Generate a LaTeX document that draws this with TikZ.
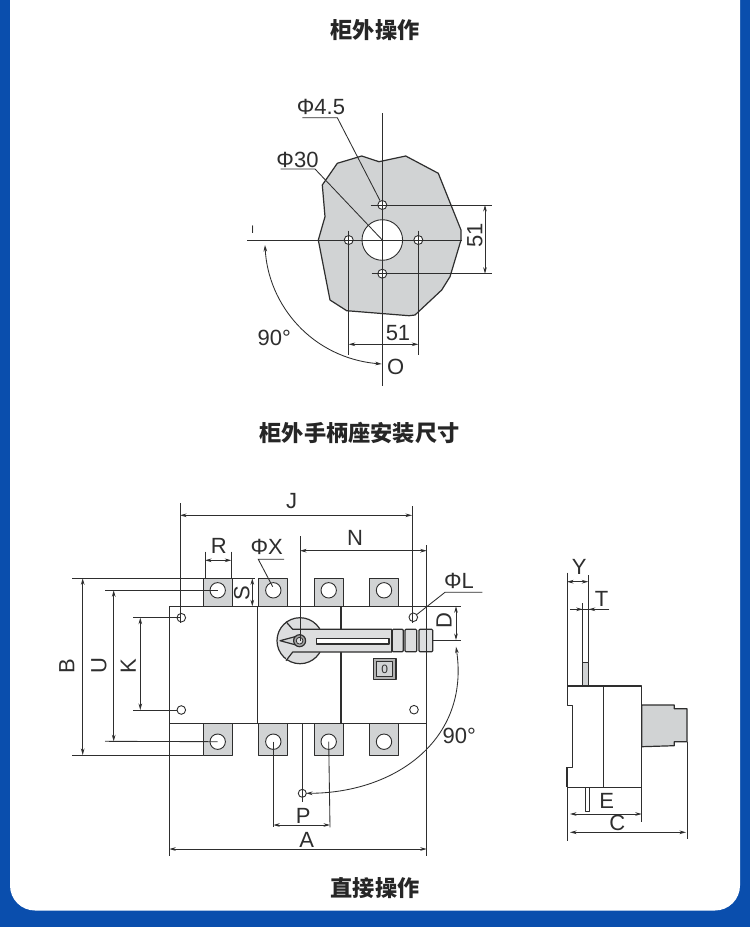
\documentclass[tikz,border=0pt]{standalone}
\usepackage{fontspec}
\setmainfont{Liberation Sans}
\newfontfamily\cjk{Noto Sans CJK SC}
\usetikzlibrary{arrows.meta}
\definecolor{frameblue}{HTML}{0A4EAD}
\definecolor{inkgray}{HTML}{2E2E2E}
\definecolor{platefill}{HTML}{D1D3D4}
\definecolor{gripfill}{HTML}{DDDEDF}
\tikzset{
	outline/.style={draw=inkgray, line width=1.2pt, line join=round},
	thinline/.style={draw=inkgray, line width=0.85pt},
	dimline/.style={draw=inkgray, line width=0.85pt, {Stealth[length=6.5pt,width=3.6pt]}-{Stealth[length=6.5pt,width=3.6pt]}},
	hole/.style={circle, draw=inkgray, line width=0.9pt, fill=white, inner sep=0pt, minimum size=#1},
	lug/.style={outline, line width=1pt, fill=platefill},
	grip/.style={outline, fill=gripfill, rounded corners=1pt},
	label/.style={text=inkgray, font=\fontsize{22}{24}\selectfont, inner sep=0pt},
	title/.style={text=black!85, font=\cjk\bfseries\fontsize{22.2}{26}\selectfont, inner sep=0pt}
}
\begin{document}
\begin{tikzpicture}[x=1pt, y=-1pt]
	\useasboundingbox (0,0) rectangle (750,927);
	\fill[frameblue] (0,0) rectangle (750,927);
	\fill[white] (10,0) [rounded corners=25pt] -- (10,910.5) -- (740,910.5) [sharp corners] -- (740,0) -- cycle;

	\node (title1) [title] at (375,30) {柜外操作};
	\node (title2) [title] at (359.5,433) {柜外手柄座安装尺寸};
	\node (title3) [title] at (375,888) {直接操作};

	% panel cut-out
	\draw[outline, fill=platefill] (337.3,163.3) -- (361.7,156) -- (379,161.7) -- (405.7,156) -- (438.3,173.3) -- (461,230) -- (461,240) -- (450,276.7) -- (441.7,290) -- (415,315) -- (409,315.7) -- (346.7,310.7) -- (330,300) -- (318.3,240) -- (325,216.7) -- (322.3,185) -- cycle;
	\node (bore) [hole=40.6pt] at (382.3,240) {};
	\node (holeT) [hole=9pt] at (382.3,205) {};
	\node (holeB) [hole=9pt] at (382.3,273.7) {};
	\node (holeL) [hole=9pt] at (348.7,240) {};
	\node (holeR) [hole=9pt] at (418.3,240) {};

	\draw[thinline] (382.3,113) -- (382.3,386);
	\draw[thinline] (247.3,240) -- (461.7,240);
	\draw[thinline] (370.7,205) -- (491.7,205);
	\draw[thinline] (371.7,273.7) -- (491.7,273.7);
	\draw[thinline] (348.7,230.7) -- (348.7,355);
	\draw[thinline] (418.3,230.7) -- (418.3,355);
	\coordinate (dimVt) at (485,205);
	\coordinate (dimVb) at (485,273.7);
	\coordinate (dimHl) at (348.7,344.3);
	\coordinate (dimHr) at (418.3,344.3);
	\draw[dimline] (dimVt) -- (dimVb);
	\draw[dimline] (dimHl) -- (dimHr);
	\draw[dimline] (265,245) .. controls (268,305) and (312,358) .. (381.7,364);

	\node (phiA) [label] at (321,107) {Φ4.5};
	\coordinate (phiAl) at (302.3,117.7);
	\coordinate (phiAr) at (337.3,117.7);
	\draw[thinline] (phiAl) -- (phiAr) -- (holeT);
	\node (phiB) [label] at (297.5,159.5) {Φ30};
	\coordinate (phiBl) at (280.7,169);
	\coordinate (phiBr) at (315,169);
	\draw[thinline] (phiBl) -- (phiBr) -- (bore.center);
	\node (markI) [label, font=\fontsize{11}{12}\selectfont] at (252.7,230) {I};
	\node (len51a) [label, rotate=90] at (475,235.5) {51};
	\node (len51b) [label] at (398,333) {51};
	\node (ang90a) [label] at (274.3,338) {90°};
	\node (markO) [label] at (395.7,367) {O};

	% switch front view
	\foreach \x in {203.3,258.7,314.3,369.7} {
		\draw[lug] (\x,578.3) rectangle ++(28.7,28);
		\draw[lug] (\x,723.3) rectangle ++(28.7,31.7);
	}
	\draw[outline] (169.3,606.3) rectangle (426.7,723.3);
	\draw[outline] (257.3,606.3) -- (257.3,723.3);
	\draw[outline] (341,606.3) -- (341,723.3);

	\node (lugA) [hole=15.4pt] at (217.7,590.3) {};
	\node (lugB) [hole=15.4pt] at (273.3,590.3) {};
	\node (lugC) [hole=15.4pt] at (328.7,590.3) {};
	\node (lugD) [hole=15.4pt] at (384,590.3) {};
	\node (lugE) [hole=15.4pt] at (217.7,741.7) {};
	\node (lugF) [hole=15.4pt] at (273.3,741.7) {};
	\node (lugG) [hole=15.4pt] at (328.7,741.7) {};
	\node (lugH) [hole=15.4pt] at (384,741.7) {};
	\node (fixA) [hole=8.6pt] at (181.3,617.7) {};
	\node (fixB) [hole=8.6pt] at (181.3,710) {};
	\node (fixC) [hole=8.6pt] at (413.3,617.3) {};
	\node (fixD) [hole=8.6pt] at (414,709.7) {};
	\node (pivot) [hole=8pt] at (302.3,793.3) {};

	% handle
	\draw[outline, fill=gripfill] (300,640.7) circle[radius=23];
	\draw[outline, fill=gripfill] (286,621.7) -- (292.7,629.3) -- (391.7,629.3) -- (391.7,652) -- (292.7,652) -- (286,660.7);
	\fill[gripfill] (290,630) rectangle (320,651.4);
	\draw[outline, fill=platefill] (280,640.7) -- (295,636.7) -- (295,644.7) -- cycle;
	\draw[outline, fill=white] (316.7,638.3) rectangle (389,644);
	\draw[grip] (392.3,629.3) rectangle (403.3,651.7);
	\draw[grip] (405,629.3) rectangle (416.7,651.7);
	\draw[grip] (419,629.3) rectangle (432.7,651.7);
	\draw[outline, fill=gray!70] (299.6,640.7) circle[radius=6];
	\draw[outline, line width=0.8pt, fill=gripfill] (299.6,640.7) circle[radius=3.4];
	\draw[outline, fill=gray!60] (373.3,658.3) rectangle (396,679.3);
	\draw[outline, line width=0.6pt, fill=platefill] (376.7,661.7) rectangle (392.7,676);
	\node (state) [label, font=\fontsize{12}{14}\selectfont] at (384.7,669) {0};

	% extension lines
	\draw[thinline] (72.3,578.3) -- (254.7,578.3);
	\draw[thinline] (72.3,755) -- (203.3,755);
	\draw[thinline] (105,590.3) -- (lugA.center);
	\draw[thinline] (105,741.3) -- (lugE.center);
	\draw[thinline] (133.3,617.7) -- (fixA.center);
	\draw[thinline] (133.3,710) -- (fixB);
	\draw[thinline] (205,551.7) -- (205,578.3);
	\draw[thinline] (231.3,551.7) -- (231.3,578.3);
	\draw[thinline] (180,503.3) -- (180,623);
	\draw[thinline] (412,506) -- (412,623);
	\draw[thinline] (300,536) -- (300,640.7);
	\draw[thinline] (426.7,545) -- (426.7,856);
	\draw[thinline] (169.3,723.3) -- (169.3,856);
	\draw[thinline] (426.7,606.3) -- (461,606.3);
	\draw[thinline] (432.7,640) -- (461,640);
	\draw[thinline] (302.7,723.3) -- (302.7,801.7);
	\draw[thinline] (lugF.center) -- (273.3,827.3);
	\draw[thinline] (lugG.center) -- (330,827.3);

	% dimensions
	\coordinate (dimBt) at (82.7,578.3);
	\coordinate (dimBb) at (82.7,755);
	\coordinate (dimUt) at (113.7,590.3);
	\coordinate (dimUb) at (113.7,741.3);
	\coordinate (dimKt) at (140.3,617.7);
	\coordinate (dimKb) at (140.3,710);
	\coordinate (dimSt) at (252.3,578.3);
	\coordinate (dimSb) at (252.3,606.3);
	\coordinate (dimRl) at (205,560.3);
	\coordinate (dimRr) at (231.3,560.3);
	\coordinate (dimJl) at (180,515.3);
	\coordinate (dimJr) at (412,515.3);
	\coordinate (dimNl) at (300,550.7);
	\coordinate (dimNr) at (426.7,550.7);
	\coordinate (dimDt) at (456,606.3);
	\coordinate (dimDb) at (456,640);
	\coordinate (dimPl) at (273.3,825);
	\coordinate (dimPr) at (330,825);
	\coordinate (dimAl) at (169.3,849);
	\coordinate (dimAr) at (426.7,849);
	\draw[dimline] (dimBt) -- (dimBb);
	\draw[dimline] (dimUt) -- (dimUb);
	\draw[dimline] (dimKt) -- (dimKb);
	\draw[dimline] (dimSt) -- (dimSb);
	\draw[dimline] (dimRl) -- (dimRr);
	\draw[dimline] (dimJl) -- (dimJr);
	\draw[dimline] (dimNl) -- (dimNr);
	\draw[dimline] (dimDt) -- (dimDb);
	\draw[dimline] (dimPl) -- (dimPr);
	\draw[dimline] (dimAl) -- (dimAr);
	\draw[dimline] (456,646.7) .. controls (470,740) and (395,793) .. (306,793.3);

	\coordinate (phiXl) at (284,559.3);
	\coordinate (phiXr) at (258.3,559.3);
	\draw[thinline] (phiXl) -- (phiXr) -- (272.7,586.7);
	\coordinate (phiLl) at (482.3,592.3);
	\coordinate (phiLr) at (445,592.3);
	\draw[thinline] (phiLl) -- (phiLr) -- (fixC);

	\node (lblB) [label, rotate=90] at (66.7,665.7) {B};
	\node (lblU) [label, rotate=90] at (99,665.7) {U};
	\node (lblK) [label, rotate=90] at (128.3,665.7) {K};
	\node (lblS) [label, rotate=90] at (241.7,593) {S};
	\node (lblD) [label, rotate=90] at (444,620.7) {D};
	\node (lblR) [label] at (218.7,545.5) {R};
	\node (lblX) [label] at (266.7,547.3) {ΦX};
	\node (lblJ) [label] at (291.7,500.7) {J};
	\node (lblN) [label] at (355,538.3) {N};
	\node (lblL) [label] at (459,580.7) {ΦL};
	\node (ang90b) [label] at (459.3,736) {90°};
	\node (lblP) [label] at (303.3,816) {P};
	\node (lblA) [label] at (306.7,840) {A};

	% switch side view
	\draw[outline, fill=platefill] (641.7,705) -- (674.3,705) -- (674.3,708.7) -- (687,708.7) -- (687,741.7) -- (674.3,741.7) -- (674.3,745.7) -- (641.7,746.7) -- cycle;
	\draw[lug, line width=0.85pt] (582.7,662.3) rectangle (588.7,686);
	\draw[outline, line width=0.85pt] (582.7,603.3) -- (582.7,662.3);
	\draw[outline] (567.3,686) -- (641.7,686) -- (641.7,787.3) -- (567.3,787.3) -- (567.3,767.3) -- (572.3,767.3) -- (572.3,705.7) -- (567.3,705.7) -- cycle;
	\draw[outline, line width=2pt] (567.3,767.3) -- (567.3,787.3);
	\draw[outline] (603.7,686) -- (603.7,787.3);
	\draw[outline, line width=0.85pt] (585.3,787.3) rectangle (589.3,811.7);

	\draw[thinline] (567,572.7) -- (567,686);
	\draw[thinline] (588.3,575) -- (588.3,662.3);
	\draw[thinline] (567.3,787.3) -- (567.3,841);
	\draw[thinline] (687,741.7) -- (687,839.3);
	\draw[thinline] (641.7,787.3) -- (641.7,821.7);
	\coordinate (dimYl) at (567,581.7);
	\coordinate (dimYr) at (588.3,581.7);
	\coordinate (dimEl) at (570,814);
	\coordinate (dimEr) at (641.7,814);
	\coordinate (dimCl) at (570,832.3);
	\coordinate (dimCr) at (686,832.3);
	\coordinate (dimTl) at (570,609.3);
	\coordinate (dimTr) at (609.3,609.3);
	\draw[dimline] (dimYl) -- (dimYr);
	\draw[dimline] (dimEl) -- (dimEr);
	\draw[dimline] (dimCl) -- (dimCr);
	\draw[thinline] (dimTl) -- (dimTr);
	\draw[thinline, -{Stealth[length=6.5pt,width=3.6pt]}] (dimTl) -- (582.7,609.3);
	\draw[thinline, -{Stealth[length=6.5pt,width=3.6pt]}] (dimTr) -- (588.7,609.3);

	\node (lblY) [label] at (579.3,567.3) {Y};
	\node (lblT) [label] at (601.7,599.3) {T};
	\node (lblE) [label] at (606.7,801) {E};
	\node (lblC) [label] at (617.3,823.3) {C};
\end{tikzpicture}
\end{document}
